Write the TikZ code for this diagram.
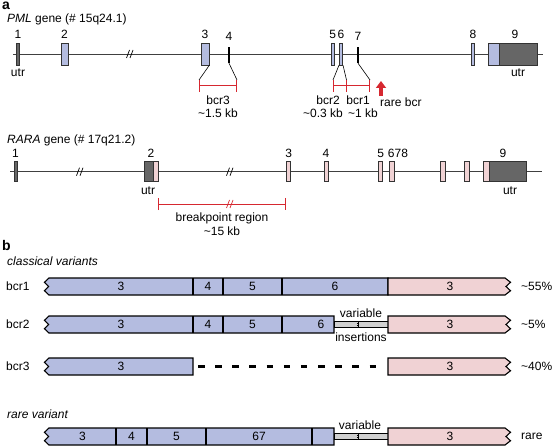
\documentclass[tikz,border=0pt]{standalone}
\usepackage{fontspec}
\setmainfont{Liberation Sans}
\usetikzlibrary{positioning,arrows.meta}
\definecolor{exonblue}{RGB}{180,188,224}
\definecolor{exonpink}{RGB}{240,210,212}
\definecolor{utrgray}{RGB}{102,102,102}
\definecolor{insgray}{RGB}{208,208,208}
\definecolor{bcrred}{RGB}{214,40,48}
\tikzset
{
    geneline/.style  = {draw=black!75, line width=0.8pt},
    exon/.style      = {draw=black!80, line width=0.6pt, inner sep=0, minimum height=22pt},
    blueexon/.style  = {exon, fill=exonblue},
    pinkexon/.style  = {exon, fill=exonpink, minimum height=20pt},
    utrexon/.style   = {exon, fill=utrgray},
    thinexon/.style  = {fill=black, inner sep=0, minimum width=2pt, minimum height=16pt},
    num/.style       = {inner sep=0},
    conn/.style      = {draw=black, line width=0.6pt},
    bcrbar/.style    = {draw=bcrred, line width=1pt},
    seg/.style       = {draw=black, line width=1.1pt, line join=miter},
    txt/.style       = {inner sep=0}
}
% break mark on a line
\newcommand{\genecut}[3]{\draw[#3, line width=0.7pt] (#1-3.5,#2+4) -- (#1-0.5,#2-4) (#1,#2+4) -- (#1+3,#2-4);}
% left PML part of a fusion bar, with zigzag end
\newcommand{\pmlpart}[2]{\filldraw[seg, fill=exonblue] (49,#1-8.5) -- (#2,#1-8.5) -- (#2,#1+8.5) -- (49,#1+8.5) -- (44.5,#1+4.25) -- (48.5,#1) -- (44.5,#1-4.25) -- cycle;}
% right RARA part of a fusion bar
\newcommand{\rarapart}[1]{\filldraw[seg, fill=exonpink] (388,#1-8.5) -- (505,#1-8.5) -- (510.5,#1-4.25) -- (506,#1) -- (510.5,#1+4.25) -- (505,#1+8.5) -- (388,#1+8.5) -- cycle;
    \node[txt] at (450,#1) {3};}
% inserted stretch between the two parts
\newcommand{\insertpart}[1]{\filldraw[draw=black, line width=0.8pt, fill=insgray] (334,#1-3) rectangle (388,#1+3);
    \draw[line width=0.5pt] (358,#1-2.5) -- (358,#1+2.5) (356.8,#1-1) -- (359.2,#1-1) (356.8,#1+1) -- (359.2,#1+1);}

\begin{document}
\begin{tikzpicture}[x=1pt, y=-1pt, font=\fontsize{12}{14}\selectfont]
    \useasboundingbox (0,0) rectangle (553,446);

    \node[anchor=base west, inner sep=0, font=\bfseries\fontsize{14}{14}\selectfont] (taga) at (2,10) {a};
    \node[anchor=base west, inner sep=0] (pmltitle) at (7,22.5) {\textit{PML} gene (\# 15q24.1)};

    % PML gene
    \draw[geneline] (13,54) -- (543,54);
    \genecut{130}{54}{black}
    \node[utrexon, minimum width=3pt] (p1) at (18,54) {};
    \node[blueexon, minimum width=7pt] (p2) at (64.5,54) {};
    \node[blueexon, minimum width=8pt] (p3) at (205,54) {};
    \node[thinexon] (p4) at (229,55) {};
    \node[blueexon, minimum width=3pt] (p5) at (332.7,54) {};
    \node[blueexon, minimum width=3.5pt] (p6) at (341,54) {};
    \node[thinexon] (p7) at (358,55) {};
    \node[blueexon, minimum width=3pt] (p8) at (473,54) {};
    \node[blueexon, minimum width=11pt] (p9a) at (493.5,54) {};
    \node[utrexon, minimum width=38pt] (p9b) at (518,54) {};
    \node[num, above=3.5pt of p1] (n1) {1};
    \node[num, above=3.5pt of p2] (n2) {2};
    \node[num, above=3.5pt of p3] (n3) {3};
    \node[num, above=6.5pt of p4] (n4) {4};
    \node[num, above=3.5pt of p5] (n5) {5};
    \node[num, above=3.5pt of p6] (n6) {6};
    \node[num, above=6.5pt of p7] (n7) {7};
    \node[num, above=3.5pt of p8] (n8) {8};
    \node[num, above=3.5pt of p9b, xshift=-3pt] (n9) {9};
    \node[txt, below=3pt of p1] (utr1) {utr};
    \node[txt, below=3pt of p9b] (utr9) {utr};

    % bcr ranges
    \coordinate (b3L) at (199,80);
    \coordinate (b3R) at (237,80);
    \coordinate (b2L) at (333,80);
    \coordinate (b2M) at (346.5,80);
    \coordinate (b1R) at (370,80);
    \draw[conn] (p3.south east) -- (b3L);
    \draw[conn] (p4.south) -- (b3R);
    \draw[conn] (p6.south west) -- (b2L);
    \draw[conn] (p6.south east) -- (b2M);
    \draw[conn] (p7.south) -- (b1R);
    \draw[bcrbar, {Bar[width=12pt]}-{Bar[width=12pt]}] ([yshift=-6pt]b3L) -- ([yshift=-6pt]b3R);
    \draw[bcrbar, {Bar[width=12pt]}-{Bar[width=12pt]}] ([yshift=-6pt]b2L) -- ([yshift=-6pt]b1R);
    \draw[bcrbar] (b2M) -- ++(0,12);
    \node[txt] (bcr3) at (218,100) {bcr3};
    \node[txt] (kb3) at (218,113) {\textasciitilde1.5 kb};
    \node[txt] (bcr2) at (328,100) {bcr2};
    \node[txt] (kb2) at (323,113) {\textasciitilde0.3 kb};
    \node[txt] (bcr1) at (358,100) {bcr1};
    \node[txt] (kb1) at (363,113) {\textasciitilde1 kb};
    \coordinate (arrowfoot) at (381,96);
    \coordinate (arrowtip) at (381,81);
    \draw[draw=bcrred, line width=3.5pt, -{Triangle[width=10pt,length=7pt]}] (arrowfoot) -- (arrowtip);
    \node[txt, anchor=west] (rarebcr) at (380,102.5) {rare bcr};

    \node[anchor=base west, inner sep=0] (raratitle) at (7,144) {\textit{RARA} gene (\# 17q21.2)};

    % RARA gene
    \draw[geneline] (10,171.7) -- (542,171.7);
    \genecut{80}{171.7}{black}
    \genecut{230}{171.7}{black}
    \node[utrexon, minimum width=3pt, minimum height=20pt] (r1) at (15.5,171.7) {};
    \node[utrexon, minimum width=9pt, minimum height=20pt] (r2a) at (148.5,171.7) {};
    \node[pinkexon, minimum width=5pt] (r2b) at (155.5,171.7) {};
    \node[pinkexon, minimum width=4pt] (r3) at (288.7,171.7) {};
    \node[pinkexon, minimum width=4pt] (r4) at (326,171.7) {};
    \node[pinkexon, minimum width=4pt] (r5) at (380.7,171.7) {};
    \node[pinkexon, minimum width=5pt] (r6) at (391.5,171.7) {};
    \node[pinkexon, minimum width=5pt] (r7) at (442.5,171.7) {};
    \node[pinkexon, minimum width=5pt] (r8) at (466.5,171.7) {};
    \node[pinkexon, minimum width=6pt] (r9a) at (486,171.7) {};
    \node[utrexon, minimum width=37pt, minimum height=20pt] (r9b) at (507.5,171.7) {};
    \node[num, above=3.5pt of r1] (m1) {1};
    \node[num] (m2) at (151,153.3) {2};
    \node[num, above=3.5pt of r3] (m3) {3};
    \node[num, above=3.5pt of r4] (m4) {4};
    \node[num, above=3.5pt of r5] (m5) {5};
    \node[num] (m678) at (398,153.3) {678};
    \node[num] (m9) at (503,153.3) {9};
    \node[txt] (utr2) at (148,191) {utr};
    \node[txt] (utr9r) at (510,190.5) {utr};
    \draw[bcrbar, {Bar[width=12pt]}-{Bar[width=12pt]}] (r2b.east |- 0,204) -- (r3.west |- 0,204);
    \genecut{230}{204}{bcrred}
    \node[txt] (bpregion) at (222,218) {breakpoint region};
    \node[txt] (kb15) at (222,231) {\textasciitilde15 kb};

    % fusion transcripts
    \node[anchor=base west, inner sep=0, font=\bfseries\fontsize{14}{14}\selectfont] (tagb) at (2,250) {b};
    \node[anchor=base west, inner sep=0] (classical) at (7,265.5) {\textit{classical variants}};

    % bcr1
    \node[txt, anchor=west] (lbcr1) at (6,286.5) {bcr1};
    \pmlpart{286.5}{388}
    \foreach \x in {193,223,282}
        \draw[seg] (\x,278) -- (\x,295);
    \rarapart{286.5}
    \node[txt] at (121,286.5) {3};
    \node[txt] at (208,286.5) {4};
    \node[txt] at (252.5,286.5) {5};
    \node[txt] at (335,286.5) {6};
    \node[txt, anchor=west] (p55) at (521,286.5) {\textasciitilde55\%};

    % bcr2
    \node[txt, anchor=west] (lbcr2) at (6,324.5) {bcr2};
    \pmlpart{324.5}{334}
    \foreach \x in {193,223,282}
        \draw[seg] (\x,316) -- (\x,333);
    \insertpart{324.5}
    \rarapart{324.5}
    \node[txt] at (121,324.5) {3};
    \node[txt] at (208,324.5) {4};
    \node[txt] at (252.5,324.5) {5};
    \node[txt] at (321,324.5) {6};
    \node[txt] (var2) at (361,313) {variable};
    \node[txt] (ins2) at (361,337.5) {insertions};
    \node[txt, anchor=west] (p5) at (521,324.5) {\textasciitilde5\%};

    % bcr3
    \node[txt, anchor=west] (lbcr3) at (6,366.5) {bcr3};
    \pmlpart{366.5}{193}
    \draw[line width=3.8pt, dash pattern=on 6.5pt off 10.65pt] (198,366.5) -- (378,366.5);
    \rarapart{366.5}
    \node[txt] at (121,366.5) {3};
    \node[txt, anchor=west] (p40) at (521,366.5) {\textasciitilde40\%};

    % rare variant
    \node[anchor=base west, inner sep=0] (rarevar) at (7,418) {\textit{rare variant}};
    \pmlpart{436.5}{334}
    \foreach \x in {116,147,206,312}
        \draw[seg] (\x,428) -- (\x,445);
    \insertpart{436.5}
    \rarapart{436.5}
    \node[txt] at (82.5,436.5) {3};
    \node[txt] at (131.5,436.5) {4};
    \node[txt] at (176.5,436.5) {5};
    \node[txt] at (259,436.5) {67};
    \node[txt] (var4) at (360,425) {variable};
    \node[txt, anchor=west] (prare) at (521,436.5) {rare};
\end{tikzpicture}
\end{document}
